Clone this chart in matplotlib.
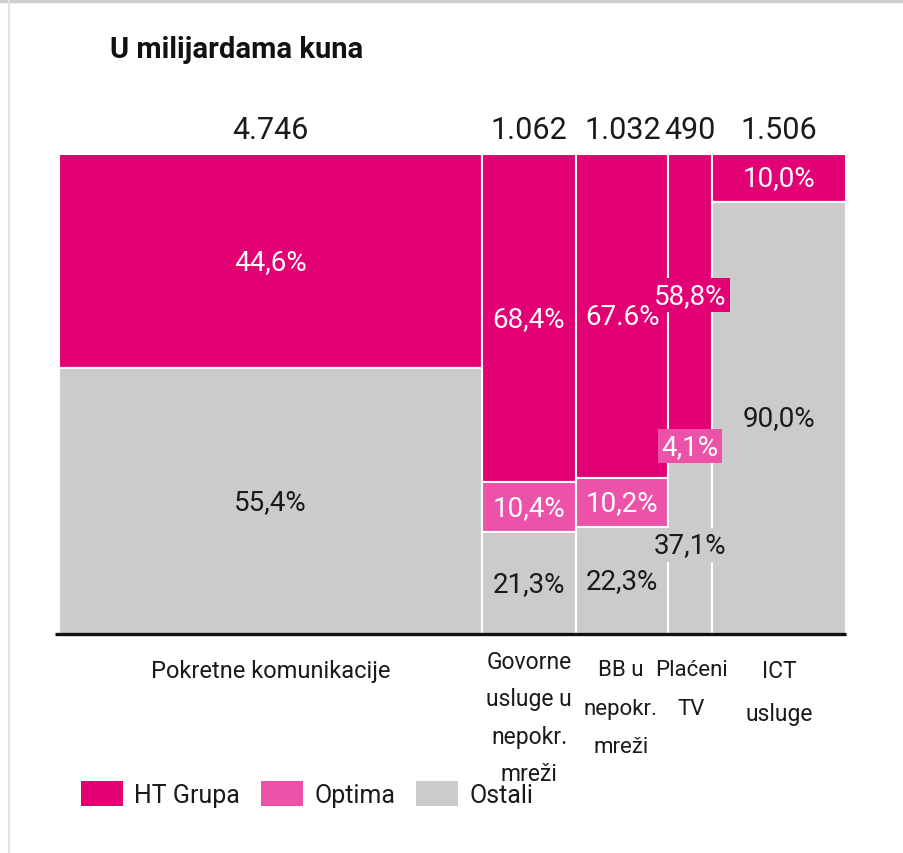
import matplotlib
matplotlib.use("Agg")
import matplotlib.pyplot as plt
from matplotlib.patches import Patch
from matplotlib.lines import Line2D
import numpy as np

plt.rcParams['font.family'] = ['Roboto', 'DejaVu Sans']

# data
categories = ["Pokretne komunikacije", "Govorne\nusluge u\nnepokr.\nmreži",
              "BB u\nnepokr.\nmreži", "Plaćeni\nTV", "ICT\nusluge"]
totals = [4746, 1062, 1032, 490, 1506]
total_labels = ["4.746", "1.062", "1.032", "490", "1.506"]
ht = [44.6, 68.4, 67.6, 58.8, 10.0]
optima = [0.0, 10.4, 10.2, 4.1, 0.0]
ostali = [55.4, 21.3, 22.3, 37.1, 90.0]
ht_labels = ["44,6%", "68,4%", "67.6%", "58,8%", "10,0%"]
optima_labels = ["", "10,4%", "10,2%", "4,1%", ""]
ostali_labels = ["55,4%", "21,3%", "22,3%", "37,1%", "90,0%"]
series = ["HT Grupa", "Optima", "Ostali"]

c_ht = "#e20074"
c_opt = "#ec52a8"
c_ost = "#cbcbcb"
txt = '#1a1a1a'

fig = plt.figure(figsize=(9.04, 8.54), dpi=100)
ax = fig.add_axes([59 / 904, 1 - 635 / 854, 787 / 904, 480 / 854])

lefts = np.concatenate([[0], np.cumsum(totals)[:-1]])
widths = np.array(totals)
centers = lefts + widths / 2
ht = np.array(ht)
optima = np.array(optima)
ostali = np.array(ostali)

ax.bar(lefts, ht, width=widths, bottom=0, align='edge', color=c_ht, edgecolor='white', linewidth=1.5)
ax.bar(lefts, optima, width=widths, bottom=ht, align='edge', color=c_opt, edgecolor='white', linewidth=1.5)
ax.bar(lefts, ostali, width=widths, bottom=ht + optima, align='edge', color=c_ost, edgecolor='white', linewidth=1.5)

ax.set_xlim(0, sum(totals))
ax.set_ylim(100, 0)
for s in ax.spines.values():
    s.set_visible(False)
ax.set_xticks([])
ax.set_yticks([])

# bottom baseline
ax.plot([-45, sum(totals)], [100, 100], color='#111111', lw=2.4, clip_on=False, solid_capstyle='butt')


def seg_label(x, y, s, fc, tc):
    if not s:
        return
    ax.text(x, y, s, ha='center', va='center', fontsize=20, color=tc,
            bbox=dict(boxstyle='square,pad=0.12', fc=fc, ec='none'))


for i in range(len(totals)):
    seg_label(centers[i], ht[i] / 2, ht_labels[i], c_ht, 'white')
    seg_label(centers[i], ht[i] + optima[i] / 2, optima_labels[i], c_opt, 'white')
    seg_label(centers[i], ht[i] + optima[i] + ostali[i] / 2, ostali_labels[i], c_ost, txt)
    ax.text(centers[i], -5.2, total_labels[i], ha='center', va='center', fontsize=22,
            color=txt, clip_on=False)

# category labels
cat_y = [105.2, 103.3, 105.2, 105.2, 105.2]
cat_ls = [1.8, 1.8, 2.1, 2.1, 2.1]
cat_fs = [17, 16.5, 16, 16, 16.5]
cat_dx = [0, 0, -15, 15, 0]
for i, c in enumerate(categories):
    ax.text(centers[i] + cat_dx[i], cat_y[i], c, ha='center', va='top', fontsize=cat_fs[i],
            color=txt, linespacing=cat_ls[i], clip_on=False)

fig.text(110 / 904, 1 - 50 / 854, "U milijardama kuna", fontsize=21, fontweight='bold',
         color='#111111', ha='left', va='center')

handles = [Patch(fc=c_ht, ec='none'), Patch(fc=c_opt, ec='none'), Patch(fc=c_ost, ec='none')]
fig.legend(handles, series, loc='center left', bbox_to_anchor=(81 / 904, 1 - 795 / 854),
           ncol=3, frameon=False, fontsize=18, handlelength=1.68, handleheight=1.16,
           handletextpad=0.44, columnspacing=0.85, borderpad=0, borderaxespad=0,
           labelcolor=txt)

# page frame pieces
fig.add_artist(Line2D([0, 1], [1 - 1.5 / 854, 1 - 1.5 / 854], color='#cfcfcf', lw=2.5))
fig.add_artist(Line2D([8.5 / 904, 8.5 / 904], [0, 1], color='#e2e2e2', lw=1.5))

fig.savefig("out.png", dpi=100, facecolor='white')
